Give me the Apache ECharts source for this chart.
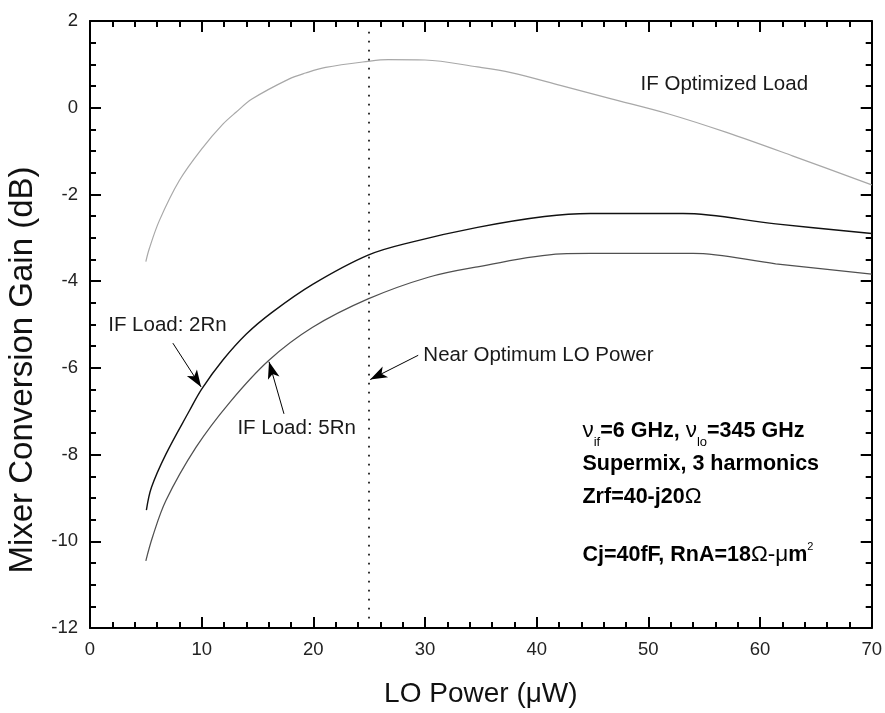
<!DOCTYPE html>
<html>
<head>
<meta charset="utf-8">
<script src="https://cdn.jsdelivr.net/npm/echarts@6/dist/echarts.min.js"></script>
<style>
html,body{margin:0;padding:0;background:#fff;}
#chart{width:885px;height:713px;}
</style>
</head>
<body>
<div id="chart"></div>
<script>
// ---- data ----
const optX = [5.0, 5.3, 6.2, 8.0, 10.1, 11.9, 13.1, 14.5, 17.8, 19.3, 21.1, 24.9, 26.7, 30.0, 34.7, 37.7, 42.2, 46.6, 51.9, 57.0, 62.9, 70.0];
const optY = [-3.55, -3.26, -2.61, -1.68, -0.92, -0.38, -0.10, 0.20, 0.66, 0.80, 0.93, 1.07, 1.11, 1.10, 0.94, 0.81, 0.51, 0.21, -0.15, -0.57, -1.11, -1.78];

const rn2X = [5.05, 5.5, 6.8, 8.9, 10.0, 11.9, 14.0, 16.3, 19.9, 24.9, 28.8, 34.7, 40.7, 44.8, 53.1, 61.4, 70.0];
const rn2Y = [-9.28, -8.76, -7.99, -6.99, -6.49, -5.82, -5.22, -4.72, -4.08, -3.40, -3.10, -2.76, -2.51, -2.44, -2.44, -2.68, -2.90];

const rn5X = [5.0, 5.6, 6.8, 9.5, 12.5, 16.0, 19.9, 24.9, 30.3, 34.7, 42.2, 44.8, 54.0, 61.4, 70.0];
const rn5Y = [-10.45, -9.9, -9.06, -7.83, -6.80, -5.83, -5.07, -4.41, -3.91, -3.67, -3.37, -3.36, -3.36, -3.60, -3.84];

const xTicks = {min: 0, max: 70, step: 10};
const yTicks = {min: -12, max: 2, step: 2};

const optimumLO = 25;
const optimumSpan = [1.75, -11.85];

const xTitle = 'LO Power (μW)';
const yTitle = 'Mixer Conversion Gain (dB)';

// annotations (data coordinates)
const labels = [
  {text: 'IF Optimized Load', at: [49.3, 0.54]},
  {text: 'IF Load: 2Rn', at: [1.63, -5.03]},
  {text: 'IF Load: 5Rn', at: [13.2, -7.40]},
  {text: 'Near Optimum LO Power', at: [29.85, -5.71]}
];
const arrows = [
  {from: [7.42, -5.43], to: [9.95, -6.44]},
  {from: [17.37, -7.06], to: [16.03, -5.86]},
  {from: [29.39, -5.71], to: [25.09, -6.27]}
];
const infoLines = [
  {rich: '{n|ν}{sub|if}{b|=6 GHz, }{n|ν}{sub|lo}{b|=345 GHz}', at: [44.1, -7.46]},
  {rich: '{b|Supermix, 3 harmonics}', at: [44.1, -8.22]},
  {rich: '{b|Zrf=40-j20}{n|Ω}', at: [44.1, -8.98]},
  {rich: '{b|Cj=40fF, RnA=18}{n|Ω-μ}{b|m}{sup|2}', at: [44.1, -10.32]}
];

// ---- chart ----
const F = 'Liberation Sans, Arial, Helvetica, sans-serif';
const pairs = (xs, ys) => xs.map((x, i) => [x, ys[i]]);

const axisCommon = {
  type: 'value',
  axisLine: {show: true, onZero: false, lineStyle: {color: '#000', width: 2}},
  axisTick: {show: true, inside: true, length: 11, lineStyle: {color: '#000', width: 2}},
  minorTick: {show: true, length: 6, lineStyle: {color: '#000', width: 2}},
  splitLine: {show: false},
  minorSplitLine: {show: false}
};

const chart = echarts.init(document.getElementById('chart'), null, {renderer: 'canvas'});

const option = {
  animation: false,
  backgroundColor: '#fff',
  grid: {left: 90, right: 9, top: 21, bottom: 85, containLabel: false},
  xAxis: [
    Object.assign({}, axisCommon, {
      min: xTicks.min, max: xTicks.max, interval: xTicks.step, position: 'bottom',
      minorTick: Object.assign({}, axisCommon.minorTick, {splitNumber: 5}),
      axisLabel: {fontFamily: F, fontSize: 18.5, color: '#222', margin: 12},
      name: xTitle, nameLocation: 'middle', nameGap: 52,
      nameTextStyle: {fontFamily: F, fontSize: 28, color: '#111'}
    }),
    Object.assign({}, axisCommon, {
      min: xTicks.min, max: xTicks.max, interval: xTicks.step, position: 'top',
      minorTick: Object.assign({}, axisCommon.minorTick, {splitNumber: 5}),
      axisLabel: {show: false}
    })
  ],
  yAxis: [
    Object.assign({}, axisCommon, {
      min: yTicks.min, max: yTicks.max, interval: yTicks.step, position: 'left',
      minorTick: Object.assign({}, axisCommon.minorTick, {splitNumber: 4}),
      axisLabel: {fontFamily: F, fontSize: 18.5, color: '#222', margin: 12}
    }),
    Object.assign({}, axisCommon, {
      min: yTicks.min, max: yTicks.max, interval: yTicks.step, position: 'right',
      minorTick: Object.assign({}, axisCommon.minorTick, {splitNumber: 4}),
      axisLabel: {show: false}
    })
  ],
  series: [
    {
      name: 'IF Optimized Load', type: 'line', data: pairs(optX, optY),
      symbol: 'none', smooth: 0.35, lineStyle: {color: '#a8a8a8', width: 1.2}, z: 3,
      markLine: {
        silent: true, animation: false, precision: 4,
        label: {show: false},
        emphasis: {disabled: true},
        symbol: ['none', 'arrow'], symbolSize: [9, 17],
        lineStyle: {color: '#000', width: 1, type: 'solid'},
        data: [
          [{coord: [optimumLO, optimumSpan[0]], symbol: 'none', lineStyle: {type: [1.6, 7.4], width: 1.6, color: '#000'}},
           {coord: [optimumLO, optimumSpan[1]], symbol: 'none'}]
        ].concat(arrows.map(a => [
          {coord: a.from, symbol: 'none'},
          {coord: a.to, symbol: 'arrow'}
        ]))
      }
    },
    {
      name: 'IF Load: 2Rn', type: 'line', data: pairs(rn2X, rn2Y),
      symbol: 'none', smooth: 0.35, lineStyle: {color: '#111', width: 1.4}, z: 3
    },
    {
      name: 'IF Load: 5Rn', type: 'line', data: pairs(rn5X, rn5Y),
      symbol: 'none', smooth: 0.35, lineStyle: {color: '#505050', width: 1.25}, z: 3
    }
  ]
};
chart.setOption(option);

const toPx = p => chart.convertToPixel({xAxisIndex: 0, yAxisIndex: 0}, p);
const rich = {
  b: {fontFamily: F, fontSize: 21.5, fontWeight: 'bold', fill: '#000', lineHeight: 36},
  n: {fontFamily: F, fontSize: 22.5, fontWeight: 'normal', fill: '#000', lineHeight: 36},
  sub: {fontFamily: F, fontSize: 13, fontWeight: 'normal', fill: '#000', lineHeight: 12, verticalAlign: 'bottom'},
  sup: {fontFamily: F, fontSize: 11, fontWeight: 'normal', fill: '#000', lineHeight: 12, padding: [4, 0, 0, 0], verticalAlign: 'top'}
};
const graphics = [];
labels.forEach(l => {
  const p = toPx(l.at);
  graphics.push({
    type: 'text', silent: true, z: 10,
    style: {x: p[0], y: p[1], text: l.text, fill: '#1a1a1a',
      font: '20.5px ' + F, align: 'left', verticalAlign: 'middle'}
  });
});
infoLines.forEach(l => {
  const p = toPx(l.at);
  graphics.push({
    type: 'text', silent: true, z: 10,
    style: {x: p[0], y: p[1], text: l.rich, rich: rich, fill: '#000',
      font: 'bold 21.5px ' + F, align: 'left', verticalAlign: 'middle'}
  });
});
// y axis title (rotated), placed beside the left axis
graphics.push({
  type: 'text', silent: true, z: 10,
  x: 22.5, y: 370, rotation: Math.PI / 2,
  style: {text: yTitle, fill: '#111', font: '33px ' + F, align: 'center', verticalAlign: 'middle'}
});
chart.setOption({graphic: graphics});
</script>
</body>
</html>
